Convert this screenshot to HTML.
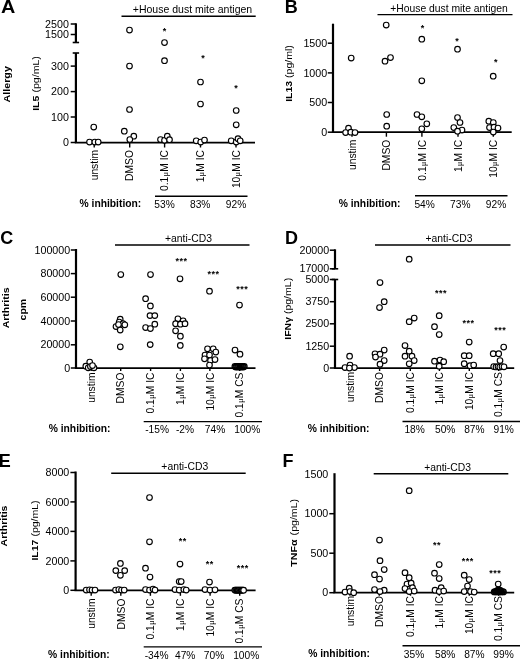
<!DOCTYPE html>
<html><head><meta charset="utf-8"><title>Figure</title>
<style>
html,body{margin:0;padding:0;background:#fff;}
svg{display:block;}
text{font-family:"Liberation Sans", sans-serif;fill:#000;}
</style></head><body>
<svg width="520" height="659" viewBox="0 0 520 659">
<rect width="520" height="659" fill="#fff"/>
<text transform="translate(0.9 13.2) scale(1.1 1)" font-size="18" font-weight="bold">A</text>
<line x1="75.9" y1="23.3" x2="75.9" y2="42.5" stroke="#000" stroke-width="2.2"/>
<line x1="72.7" y1="42.5" x2="79.1" y2="42.5" stroke="#000" stroke-width="1.6"/>
<line x1="75.9" y1="53" x2="75.9" y2="142.5" stroke="#000" stroke-width="2.2"/>
<line x1="72.7" y1="53" x2="79.1" y2="53" stroke="#000" stroke-width="1.6"/>
<line x1="70.7" y1="24" x2="75.9" y2="24" stroke="#000" stroke-width="1.5"/>
<text transform="translate(68.9 27.65) scale(1.05 1)" font-size="10.2" text-anchor="end">2500</text>
<line x1="70.7" y1="34.5" x2="75.9" y2="34.5" stroke="#000" stroke-width="1.5"/>
<text transform="translate(68.9 38.15) scale(1.05 1)" font-size="10.2" text-anchor="end">1500</text>
<line x1="70.7" y1="66.1" x2="75.9" y2="66.1" stroke="#000" stroke-width="1.5"/>
<text transform="translate(68.9 69.75) scale(1.05 1)" font-size="10.2" text-anchor="end">300</text>
<line x1="70.7" y1="91.6" x2="75.9" y2="91.6" stroke="#000" stroke-width="1.5"/>
<text transform="translate(68.9 95.25) scale(1.05 1)" font-size="10.2" text-anchor="end">200</text>
<line x1="70.7" y1="117" x2="75.9" y2="117" stroke="#000" stroke-width="1.5"/>
<text transform="translate(68.9 120.65) scale(1.05 1)" font-size="10.2" text-anchor="end">100</text>
<line x1="70.7" y1="142.5" x2="75.9" y2="142.5" stroke="#000" stroke-width="1.5"/>
<text transform="translate(68.9 146.15) scale(1.05 1)" font-size="10.2" text-anchor="end">0</text>
<line x1="74.8" y1="142.5" x2="255" y2="142.5" stroke="#000" stroke-width="1.75"/>
<line x1="94.2" y1="142.5" x2="94.2" y2="147.5" stroke="#000" stroke-width="1.4"/>
<text x="97.9" y="150" font-size="10.3" text-anchor="end" transform="rotate(-90 97.9 150)">unstim</text>
<line x1="129.7" y1="142.5" x2="129.7" y2="147.5" stroke="#000" stroke-width="1.4"/>
<text x="133.4" y="150" font-size="10.3" text-anchor="end" transform="rotate(-90 133.4 150)">DMSO</text>
<line x1="164.6" y1="142.5" x2="164.6" y2="147.5" stroke="#000" stroke-width="1.4"/>
<text x="168.3" y="150" font-size="10.3" text-anchor="end" transform="rotate(-90 168.3 150)">0.1<tspan font-family="'Liberation Serif', serif" font-size="7.8" dx="0.35">μ</tspan><tspan dx="0.35">M</tspan> IC</text>
<line x1="200.5" y1="142.5" x2="200.5" y2="147.5" stroke="#000" stroke-width="1.4"/>
<text x="204.2" y="150" font-size="10.3" text-anchor="end" transform="rotate(-90 204.2 150)">1<tspan font-family="'Liberation Serif', serif" font-size="7.8" dx="0.35">μ</tspan><tspan dx="0.35">M</tspan> IC</text>
<line x1="236" y1="142.5" x2="236" y2="147.5" stroke="#000" stroke-width="1.4"/>
<text x="239.7" y="150" font-size="10.3" text-anchor="end" transform="rotate(-90 239.7 150)">10<tspan font-family="'Liberation Serif', serif" font-size="7.8" dx="0.35">μ</tspan><tspan dx="0.35">M</tspan> IC</text>
<line x1="121.5" y1="16.3" x2="255.7" y2="16.3" stroke="#000" stroke-width="1.4"/>
<text x="192.5" y="12.6" font-size="10.5" text-anchor="middle">+House dust mite antigen</text>
<text x="79.5" y="207" font-size="10.3" font-weight="bold">% inhibition:</text>
<line x1="155" y1="196.3" x2="247.5" y2="196.3" stroke="#000" stroke-width="1.4"/>
<text x="164.5" y="208.1" font-size="10.2" text-anchor="middle">53%</text>
<text x="200.2" y="208.1" font-size="10.2" text-anchor="middle">83%</text>
<text x="236" y="208.1" font-size="10.2" text-anchor="middle">92%</text>
<text transform="translate(10.1 84.3) rotate(-90) scale(1.03 0.87)" font-size="10.4" text-anchor="middle"><tspan font-weight="bold">Allergy</tspan></text>
<text transform="translate(38.6 83.5) rotate(-90) scale(1.03 0.87)" font-size="10.3" text-anchor="middle"><tspan font-weight="bold">IL5</tspan> (pg/mL)</text>
<text x="164.5" y="33.9" font-size="9" text-anchor="middle" font-weight="bold">*</text>
<text x="203" y="61.4" font-size="9" text-anchor="middle" font-weight="bold">*</text>
<text x="236" y="90.9" font-size="9" text-anchor="middle" font-weight="bold">*</text>
<g fill="#fff" stroke="#000" stroke-width="1.15">
<circle cx="93.75" cy="127" r="2.8"/>
<circle cx="89.5" cy="142" r="2.8"/>
<circle cx="94.8" cy="142" r="2.8"/>
<circle cx="98.2" cy="142" r="2.8"/>
<circle cx="129.5" cy="30" r="2.8"/>
<circle cx="129.5" cy="66" r="2.8"/>
<circle cx="129.5" cy="109.5" r="2.8"/>
<circle cx="124.3" cy="131.2" r="2.8"/>
<circle cx="133.8" cy="136.2" r="2.8"/>
<circle cx="129.8" cy="139.5" r="2.8"/>
<circle cx="164.5" cy="42.5" r="2.8"/>
<circle cx="164.5" cy="60.7" r="2.8"/>
<circle cx="160.5" cy="139.5" r="2.8"/>
<circle cx="164.5" cy="140.3" r="2.8"/>
<circle cx="167.3" cy="136.2" r="2.8"/>
<circle cx="169.5" cy="139.7" r="2.8"/>
<circle cx="200.5" cy="82" r="2.8"/>
<circle cx="200.5" cy="104" r="2.8"/>
<circle cx="196.2" cy="140.8" r="2.8"/>
<circle cx="200.7" cy="142" r="2.8"/>
<circle cx="204.5" cy="140" r="2.8"/>
<circle cx="236.2" cy="110.5" r="2.8"/>
<circle cx="236.2" cy="124.8" r="2.8"/>
<circle cx="231.2" cy="140.8" r="2.8"/>
<circle cx="236.2" cy="142" r="2.8"/>
<circle cx="238" cy="138.7" r="2.8"/>
<circle cx="240.2" cy="140.8" r="2.8"/>
</g>
<text x="284.7" y="13.2" font-size="18" font-weight="bold">B</text>
<line x1="333" y1="23.7" x2="333" y2="132.2" stroke="#000" stroke-width="2.2"/>
<line x1="327.8" y1="43.2" x2="333" y2="43.2" stroke="#000" stroke-width="1.5"/>
<text transform="translate(327.2 46.85) scale(1.05 1)" font-size="10.2" text-anchor="end">1500</text>
<line x1="327.8" y1="72.9" x2="333" y2="72.9" stroke="#000" stroke-width="1.5"/>
<text transform="translate(327.2 76.55) scale(1.05 1)" font-size="10.2" text-anchor="end">1000</text>
<line x1="327.8" y1="102.5" x2="333" y2="102.5" stroke="#000" stroke-width="1.5"/>
<text transform="translate(327.2 106.15) scale(1.05 1)" font-size="10.2" text-anchor="end">500</text>
<line x1="327.8" y1="132.2" x2="333" y2="132.2" stroke="#000" stroke-width="1.5"/>
<text transform="translate(327.2 135.85) scale(1.05 1)" font-size="10.2" text-anchor="end">0</text>
<line x1="331.9" y1="132.2" x2="511.7" y2="132.2" stroke="#000" stroke-width="1.75"/>
<line x1="352" y1="132.2" x2="352" y2="136.7" stroke="#000" stroke-width="1.4"/>
<text x="355.7" y="139.7" font-size="10.3" text-anchor="end" transform="rotate(-90 355.7 139.7)">unstim</text>
<line x1="386.4" y1="132.2" x2="386.4" y2="136.7" stroke="#000" stroke-width="1.4"/>
<text x="390.1" y="139.7" font-size="10.3" text-anchor="end" transform="rotate(-90 390.1 139.7)">DMSO</text>
<line x1="421.9" y1="132.2" x2="421.9" y2="136.7" stroke="#000" stroke-width="1.4"/>
<text x="425.6" y="139.7" font-size="10.3" text-anchor="end" transform="rotate(-90 425.6 139.7)">0.1<tspan font-family="'Liberation Serif', serif" font-size="7.8" dx="0.35">μ</tspan><tspan dx="0.35">M</tspan> IC</text>
<line x1="458" y1="132.2" x2="458" y2="136.7" stroke="#000" stroke-width="1.4"/>
<text x="461.7" y="139.7" font-size="10.3" text-anchor="end" transform="rotate(-90 461.7 139.7)">1<tspan font-family="'Liberation Serif', serif" font-size="7.8" dx="0.35">μ</tspan><tspan dx="0.35">M</tspan> IC</text>
<line x1="493.3" y1="132.2" x2="493.3" y2="136.7" stroke="#000" stroke-width="1.4"/>
<text x="497" y="139.7" font-size="10.3" text-anchor="end" transform="rotate(-90 497 139.7)">10<tspan font-family="'Liberation Serif', serif" font-size="7.8" dx="0.35">μ</tspan><tspan dx="0.35">M</tspan> IC</text>
<line x1="377.5" y1="14.6" x2="512.5" y2="14.6" stroke="#000" stroke-width="1.4"/>
<text x="449" y="11.8" font-size="10.35" text-anchor="middle">+House dust mite antigen</text>
<text x="338.7" y="207" font-size="10.3" font-weight="bold">% inhibition:</text>
<line x1="415" y1="195.8" x2="507.5" y2="195.8" stroke="#000" stroke-width="1.4"/>
<text x="424.6" y="208.1" font-size="10.2" text-anchor="middle">54%</text>
<text x="460.3" y="208.1" font-size="10.2" text-anchor="middle">73%</text>
<text x="496" y="208.1" font-size="10.2" text-anchor="middle">92%</text>
<text transform="translate(291.8 73.5) rotate(-90) scale(1.03 0.87)" font-size="10.2" text-anchor="middle"><tspan font-weight="bold">IL13</tspan> (pg/ml)</text>
<text x="422.5" y="30.7" font-size="9" text-anchor="middle" font-weight="bold">*</text>
<text x="457" y="44.4" font-size="9" text-anchor="middle" font-weight="bold">*</text>
<text x="495.7" y="65.2" font-size="9" text-anchor="middle" font-weight="bold">*</text>
<g fill="#fff" stroke="#000" stroke-width="1.15">
<circle cx="351.2" cy="58" r="2.8"/>
<circle cx="348.5" cy="128.2" r="2.8"/>
<circle cx="345.6" cy="132.5" r="2.8"/>
<circle cx="350.8" cy="132.2" r="2.8"/>
<circle cx="355" cy="132.5" r="2.8"/>
<circle cx="386.2" cy="25" r="2.8"/>
<circle cx="385" cy="61.2" r="2.8"/>
<circle cx="390.5" cy="57.5" r="2.8"/>
<circle cx="386.7" cy="114.5" r="2.8"/>
<circle cx="386.7" cy="126.2" r="2.8"/>
<circle cx="421.8" cy="39.2" r="2.8"/>
<circle cx="421.8" cy="80.8" r="2.8"/>
<circle cx="417" cy="114.5" r="2.8"/>
<circle cx="421.8" cy="116.8" r="2.8"/>
<circle cx="426.8" cy="123.8" r="2.8"/>
<circle cx="421.8" cy="128.8" r="2.8"/>
<circle cx="457.5" cy="49.2" r="2.8"/>
<circle cx="457.5" cy="117.5" r="2.8"/>
<circle cx="460" cy="122.5" r="2.8"/>
<circle cx="453.8" cy="127.5" r="2.8"/>
<circle cx="462" cy="130" r="2.8"/>
<circle cx="457.5" cy="131.2" r="2.8"/>
<circle cx="493.2" cy="76.2" r="2.8"/>
<circle cx="488.8" cy="121.2" r="2.8"/>
<circle cx="493.3" cy="122.5" r="2.8"/>
<circle cx="489.5" cy="127.5" r="2.8"/>
<circle cx="494" cy="127.2" r="2.8"/>
<circle cx="498" cy="128" r="2.8"/>
<circle cx="493.3" cy="132" r="2.8"/>
</g>
<text x="0.2" y="244.2" font-size="18" font-weight="bold">C</text>
<line x1="76" y1="249" x2="76" y2="368" stroke="#000" stroke-width="2.2"/>
<line x1="70.8" y1="250" x2="76" y2="250" stroke="#000" stroke-width="1.5"/>
<text transform="translate(70.2 253.65) scale(1.05 1)" font-size="10.2" text-anchor="end">100000</text>
<line x1="70.8" y1="273.6" x2="76" y2="273.6" stroke="#000" stroke-width="1.5"/>
<text transform="translate(70.2 277.25) scale(1.05 1)" font-size="10.2" text-anchor="end">80000</text>
<line x1="70.8" y1="297.2" x2="76" y2="297.2" stroke="#000" stroke-width="1.5"/>
<text transform="translate(70.2 300.85) scale(1.05 1)" font-size="10.2" text-anchor="end">60000</text>
<line x1="70.8" y1="321" x2="76" y2="321" stroke="#000" stroke-width="1.5"/>
<text transform="translate(70.2 324.65) scale(1.05 1)" font-size="10.2" text-anchor="end">40000</text>
<line x1="70.8" y1="344.8" x2="76" y2="344.8" stroke="#000" stroke-width="1.5"/>
<text transform="translate(70.2 348.45) scale(1.05 1)" font-size="10.2" text-anchor="end">20000</text>
<line x1="70.8" y1="368" x2="76" y2="368" stroke="#000" stroke-width="1.5"/>
<text transform="translate(70.2 371.65) scale(1.05 1)" font-size="10.2" text-anchor="end">0</text>
<line x1="74.9" y1="368" x2="255.5" y2="368" stroke="#000" stroke-width="1.75"/>
<line x1="91.2" y1="368" x2="91.2" y2="371" stroke="#000" stroke-width="1.4"/>
<text x="94.9" y="372.5" font-size="10.3" text-anchor="end" transform="rotate(-90 94.9 372.5)">unstim</text>
<line x1="120.7" y1="368" x2="120.7" y2="371" stroke="#000" stroke-width="1.4"/>
<text x="124.4" y="372.5" font-size="10.3" text-anchor="end" transform="rotate(-90 124.4 372.5)">DMSO</text>
<line x1="150.6" y1="368" x2="150.6" y2="371" stroke="#000" stroke-width="1.4"/>
<text x="154.3" y="372.5" font-size="10.3" text-anchor="end" transform="rotate(-90 154.3 372.5)">0.1<tspan font-family="'Liberation Serif', serif" font-size="7.8" dx="0.35">μ</tspan><tspan dx="0.35">M</tspan> IC</text>
<line x1="180.4" y1="368" x2="180.4" y2="371" stroke="#000" stroke-width="1.4"/>
<text x="184.1" y="372.5" font-size="10.3" text-anchor="end" transform="rotate(-90 184.1 372.5)">1<tspan font-family="'Liberation Serif', serif" font-size="7.8" dx="0.35">μ</tspan><tspan dx="0.35">M</tspan> IC</text>
<line x1="209.9" y1="368" x2="209.9" y2="371" stroke="#000" stroke-width="1.4"/>
<text x="213.6" y="372.5" font-size="10.3" text-anchor="end" transform="rotate(-90 213.6 372.5)">10<tspan font-family="'Liberation Serif', serif" font-size="7.8" dx="0.35">μ</tspan><tspan dx="0.35">M</tspan> IC</text>
<line x1="239.7" y1="368" x2="239.7" y2="371" stroke="#000" stroke-width="1.4"/>
<text x="243.4" y="372.5" font-size="10.3" text-anchor="end" transform="rotate(-90 243.4 372.5)">0.1<tspan font-family="'Liberation Serif', serif" font-size="7.8" dx="0.35">μ</tspan><tspan dx="0.35">M</tspan> CS</text>
<line x1="115" y1="245" x2="249.5" y2="245" stroke="#000" stroke-width="1.4"/>
<text x="188.5" y="241.8" font-size="10.35" text-anchor="middle">+anti-CD3</text>
<text x="48.7" y="431.8" font-size="10.3" font-weight="bold">% inhibition:</text>
<line x1="143.7" y1="421.6" x2="262" y2="421.6" stroke="#000" stroke-width="1.4"/>
<text x="157.1" y="432.9" font-size="10.2" text-anchor="middle">-15%</text>
<text x="185" y="432.9" font-size="10.2" text-anchor="middle">-2%</text>
<text x="215" y="432.9" font-size="10.2" text-anchor="middle">74%</text>
<text x="247.3" y="432.9" font-size="10.2" text-anchor="middle">100%</text>
<text transform="translate(8.9 307.9) rotate(-90) scale(1.03 0.87)" font-size="10.2" text-anchor="middle"><tspan font-weight="bold">Arthritis</tspan></text>
<text transform="translate(26.2 309.6) rotate(-90) scale(1.03 0.87)" font-size="10.3" text-anchor="middle"><tspan font-weight="bold">cpm</tspan></text>
<text x="181.45" y="264.4" font-size="9" text-anchor="middle" font-weight="bold" letter-spacing="0.5">***</text>
<text x="213.45" y="276.9" font-size="9" text-anchor="middle" font-weight="bold" letter-spacing="0.5">***</text>
<text x="242.25" y="291.9" font-size="9" text-anchor="middle" font-weight="bold" letter-spacing="0.5">***</text>
<g fill="#fff" stroke="#000" stroke-width="1.15">
<circle cx="89.7" cy="362" r="2.8"/>
<circle cx="85.8" cy="366.2" r="2.8"/>
<circle cx="88.2" cy="367.8" r="2.8"/>
<circle cx="90.4" cy="366.5" r="2.8"/>
<circle cx="94" cy="367.8" r="2.8"/>
<circle cx="92.5" cy="365.5" r="2.8"/>
<circle cx="120.8" cy="274.5" r="2.8"/>
<circle cx="120.2" cy="319.2" r="2.8"/>
<circle cx="119.2" cy="322" r="2.8"/>
<circle cx="123" cy="323.6" r="2.8"/>
<circle cx="124.8" cy="324.8" r="2.8"/>
<circle cx="116" cy="326.5" r="2.8"/>
<circle cx="118.5" cy="324.5" r="2.8"/>
<circle cx="120.2" cy="330" r="2.8"/>
<circle cx="120.3" cy="346.8" r="2.8"/>
<circle cx="150.5" cy="274.5" r="2.8"/>
<circle cx="145.6" cy="298.7" r="2.8"/>
<circle cx="150.4" cy="305.9" r="2.8"/>
<circle cx="150" cy="315.6" r="2.8"/>
<circle cx="154.8" cy="315.6" r="2.8"/>
<circle cx="154.8" cy="324.2" r="2.8"/>
<circle cx="145.6" cy="327.5" r="2.8"/>
<circle cx="150.4" cy="328.5" r="2.8"/>
<circle cx="150.2" cy="344.6" r="2.8"/>
<circle cx="180" cy="278.8" r="2.8"/>
<circle cx="177.9" cy="318.8" r="2.8"/>
<circle cx="183.1" cy="320.8" r="2.8"/>
<circle cx="175.6" cy="323.7" r="2.8"/>
<circle cx="180.4" cy="324.2" r="2.8"/>
<circle cx="185" cy="323.7" r="2.8"/>
<circle cx="175.6" cy="330.8" r="2.8"/>
<circle cx="180.4" cy="336.2" r="2.8"/>
<circle cx="180.3" cy="345.4" r="2.8"/>
<circle cx="209.5" cy="291.2" r="2.8"/>
<circle cx="207.5" cy="348.8" r="2.8"/>
<circle cx="213.2" cy="348.8" r="2.8"/>
<circle cx="215.8" cy="352" r="2.8"/>
<circle cx="205" cy="355" r="2.8"/>
<circle cx="209.5" cy="355" r="2.8"/>
<circle cx="204.5" cy="358.8" r="2.8"/>
<circle cx="210.5" cy="360.5" r="2.8"/>
<circle cx="215" cy="359.5" r="2.8"/>
<circle cx="209.5" cy="365" r="2.8"/>
<circle cx="239.5" cy="305" r="2.8"/>
<circle cx="235" cy="350" r="2.8"/>
<circle cx="240" cy="354.2" r="2.8"/>
</g>
<g fill="none" stroke="#000" stroke-width="1.2">
<circle cx="234.9" cy="366.4" r="2.8"/>
<circle cx="235.84" cy="367" r="2.8"/>
<circle cx="236.78" cy="366.4" r="2.8"/>
<circle cx="237.72" cy="367" r="2.8"/>
<circle cx="238.66" cy="366.4" r="2.8"/>
<circle cx="239.6" cy="367" r="2.8"/>
<circle cx="240.54" cy="366.4" r="2.8"/>
<circle cx="241.48" cy="367" r="2.8"/>
<circle cx="242.42" cy="366.4" r="2.8"/>
<circle cx="243.36" cy="367" r="2.8"/>
<circle cx="244.3" cy="366.4" r="2.8"/>
</g>
<text x="285" y="244.2" font-size="18" font-weight="bold">D</text>
<line x1="335" y1="249.3" x2="335" y2="268.8" stroke="#000" stroke-width="2.2"/>
<line x1="331.8" y1="268.8" x2="338.2" y2="268.8" stroke="#000" stroke-width="1.6"/>
<line x1="335" y1="279.5" x2="335" y2="368" stroke="#000" stroke-width="2.2"/>
<line x1="331.8" y1="279.5" x2="338.2" y2="279.5" stroke="#000" stroke-width="1.6"/>
<line x1="329.8" y1="250.2" x2="335" y2="250.2" stroke="#000" stroke-width="1.5"/>
<text transform="translate(329.2 253.85) scale(1.05 1)" font-size="10.2" text-anchor="end">20000</text>
<line x1="329.8" y1="268.8" x2="335" y2="268.8" stroke="#000" stroke-width="1.5"/>
<text transform="translate(329.2 272.45) scale(1.05 1)" font-size="10.2" text-anchor="end">17000</text>
<line x1="329.8" y1="279.5" x2="335" y2="279.5" stroke="#000" stroke-width="1.5"/>
<text transform="translate(329.2 283.15) scale(1.05 1)" font-size="10.2" text-anchor="end">5000</text>
<line x1="329.8" y1="301.7" x2="335" y2="301.7" stroke="#000" stroke-width="1.5"/>
<text transform="translate(329.2 305.35) scale(1.05 1)" font-size="10.2" text-anchor="end">3750</text>
<line x1="329.8" y1="323.8" x2="335" y2="323.8" stroke="#000" stroke-width="1.5"/>
<text transform="translate(329.2 327.45) scale(1.05 1)" font-size="10.2" text-anchor="end">2500</text>
<line x1="329.8" y1="346.2" x2="335" y2="346.2" stroke="#000" stroke-width="1.5"/>
<text transform="translate(329.2 349.85) scale(1.05 1)" font-size="10.2" text-anchor="end">1250</text>
<line x1="329.8" y1="368" x2="335" y2="368" stroke="#000" stroke-width="1.5"/>
<text transform="translate(329.2 371.65) scale(1.05 1)" font-size="10.2" text-anchor="end">0</text>
<line x1="333.9" y1="368" x2="514.2" y2="368" stroke="#000" stroke-width="1.75"/>
<line x1="350.7" y1="368" x2="350.7" y2="371" stroke="#000" stroke-width="1.4"/>
<text x="354.4" y="372" font-size="10.3" text-anchor="end" transform="rotate(-90 354.4 372)">unstim</text>
<line x1="379.6" y1="368" x2="379.6" y2="371" stroke="#000" stroke-width="1.4"/>
<text x="383.3" y="372" font-size="10.3" text-anchor="end" transform="rotate(-90 383.3 372)">DMSO</text>
<line x1="410.3" y1="368" x2="410.3" y2="371" stroke="#000" stroke-width="1.4"/>
<text x="414" y="372" font-size="10.3" text-anchor="end" transform="rotate(-90 414 372)">0.1<tspan font-family="'Liberation Serif', serif" font-size="7.8" dx="0.35">μ</tspan><tspan dx="0.35">M</tspan> IC</text>
<line x1="439.4" y1="368" x2="439.4" y2="371" stroke="#000" stroke-width="1.4"/>
<text x="443.1" y="372" font-size="10.3" text-anchor="end" transform="rotate(-90 443.1 372)">1<tspan font-family="'Liberation Serif', serif" font-size="7.8" dx="0.35">μ</tspan><tspan dx="0.35">M</tspan> IC</text>
<line x1="469.3" y1="368" x2="469.3" y2="371" stroke="#000" stroke-width="1.4"/>
<text x="473" y="372" font-size="10.3" text-anchor="end" transform="rotate(-90 473 372)">10<tspan font-family="'Liberation Serif', serif" font-size="7.8" dx="0.35">μ</tspan><tspan dx="0.35">M</tspan> IC</text>
<line x1="498.6" y1="368" x2="498.6" y2="371" stroke="#000" stroke-width="1.4"/>
<text x="502.3" y="372" font-size="10.3" text-anchor="end" transform="rotate(-90 502.3 372)">0.1<tspan font-family="'Liberation Serif', serif" font-size="7.8" dx="0.35">μ</tspan><tspan dx="0.35">M</tspan> CS</text>
<line x1="375" y1="245" x2="510.5" y2="245" stroke="#000" stroke-width="1.4"/>
<text x="449" y="241.8" font-size="10.35" text-anchor="middle">+anti-CD3</text>
<text x="307.7" y="431.8" font-size="10.3" font-weight="bold">% inhibition:</text>
<line x1="402.5" y1="421.5" x2="520" y2="421.5" stroke="#000" stroke-width="1.4"/>
<text x="414.6" y="432.9" font-size="10.2" text-anchor="middle">18%</text>
<text x="445.2" y="432.9" font-size="10.2" text-anchor="middle">50%</text>
<text x="474.4" y="432.9" font-size="10.2" text-anchor="middle">87%</text>
<text x="503.7" y="432.9" font-size="10.2" text-anchor="middle">91%</text>
<text transform="translate(290.8 308.8) rotate(-90) scale(1.03 0.87)" font-size="10.2" text-anchor="middle"><tspan font-weight="bold">IFNγ</tspan> (pg/mL)</text>
<text x="440.95" y="296.1" font-size="9" text-anchor="middle" font-weight="bold" letter-spacing="0.5">***</text>
<text x="468.45" y="326.1" font-size="9" text-anchor="middle" font-weight="bold" letter-spacing="0.5">***</text>
<text x="500.25" y="333.1" font-size="9" text-anchor="middle" font-weight="bold" letter-spacing="0.5">***</text>
<g fill="#fff" stroke="#000" stroke-width="1.15">
<circle cx="349.6" cy="356.2" r="2.8"/>
<circle cx="345" cy="367.5" r="2.8"/>
<circle cx="350" cy="365" r="2.8"/>
<circle cx="354.4" cy="367.5" r="2.8"/>
<circle cx="349.4" cy="368" r="2.8"/>
<circle cx="380" cy="282.5" r="2.8"/>
<circle cx="384.2" cy="301.7" r="2.8"/>
<circle cx="379.5" cy="307.5" r="2.8"/>
<circle cx="384.2" cy="350" r="2.8"/>
<circle cx="375" cy="353.8" r="2.8"/>
<circle cx="380" cy="354.2" r="2.8"/>
<circle cx="375.5" cy="357" r="2.8"/>
<circle cx="384.2" cy="360.5" r="2.8"/>
<circle cx="380" cy="364.2" r="2.8"/>
<circle cx="409.2" cy="259.2" r="2.8"/>
<circle cx="414.2" cy="318" r="2.8"/>
<circle cx="409.2" cy="321.7" r="2.8"/>
<circle cx="405" cy="345.5" r="2.8"/>
<circle cx="409.2" cy="351.2" r="2.8"/>
<circle cx="405" cy="356.2" r="2.8"/>
<circle cx="412" cy="356.2" r="2.8"/>
<circle cx="414.2" cy="360.5" r="2.8"/>
<circle cx="409.2" cy="363.8" r="2.8"/>
<circle cx="439.2" cy="315.7" r="2.8"/>
<circle cx="434.5" cy="326.7" r="2.8"/>
<circle cx="439.2" cy="334.5" r="2.8"/>
<circle cx="434.5" cy="361.2" r="2.8"/>
<circle cx="440" cy="360" r="2.8"/>
<circle cx="443.7" cy="361.7" r="2.8"/>
<circle cx="439.2" cy="366.2" r="2.8"/>
<circle cx="469.2" cy="342" r="2.8"/>
<circle cx="464.2" cy="355.7" r="2.8"/>
<circle cx="469.2" cy="355.7" r="2.8"/>
<circle cx="464.2" cy="363.7" r="2.8"/>
<circle cx="470" cy="365.7" r="2.8"/>
<circle cx="473.7" cy="365" r="2.8"/>
<circle cx="503.7" cy="347" r="2.8"/>
<circle cx="493.2" cy="353.7" r="2.8"/>
<circle cx="498.7" cy="353.7" r="2.8"/>
<circle cx="500" cy="360.5" r="2.8"/>
<circle cx="493.7" cy="366.5" r="2.8"/>
<circle cx="496" cy="366.9" r="2.8"/>
<circle cx="498" cy="366.6" r="2.8"/>
<circle cx="499.8" cy="367" r="2.8"/>
<circle cx="502" cy="366.5" r="2.8"/>
<circle cx="504" cy="366.8" r="2.8"/>
</g>
<text x="-1.2" y="467.3" font-size="18" font-weight="bold">E</text>
<line x1="75.6" y1="471.5" x2="75.6" y2="590.3" stroke="#000" stroke-width="2.2"/>
<line x1="70.4" y1="472.5" x2="75.6" y2="472.5" stroke="#000" stroke-width="1.5"/>
<text transform="translate(69.3 476.15) scale(1.05 1)" font-size="10.2" text-anchor="end">8000</text>
<line x1="70.4" y1="501.9" x2="75.6" y2="501.9" stroke="#000" stroke-width="1.5"/>
<text transform="translate(69.3 505.55) scale(1.05 1)" font-size="10.2" text-anchor="end">6000</text>
<line x1="70.4" y1="531.4" x2="75.6" y2="531.4" stroke="#000" stroke-width="1.5"/>
<text transform="translate(69.3 535.05) scale(1.05 1)" font-size="10.2" text-anchor="end">4000</text>
<line x1="70.4" y1="560.9" x2="75.6" y2="560.9" stroke="#000" stroke-width="1.5"/>
<text transform="translate(69.3 564.55) scale(1.05 1)" font-size="10.2" text-anchor="end">2000</text>
<line x1="70.4" y1="590.3" x2="75.6" y2="590.3" stroke="#000" stroke-width="1.5"/>
<text transform="translate(69.3 593.95) scale(1.05 1)" font-size="10.2" text-anchor="end">0</text>
<line x1="74.5" y1="590.3" x2="255.6" y2="590.3" stroke="#000" stroke-width="1.75"/>
<line x1="91.2" y1="590.3" x2="91.2" y2="595.8" stroke="#000" stroke-width="1.4"/>
<text x="94.9" y="598.5" font-size="10.3" text-anchor="end" transform="rotate(-90 94.9 598.5)">unstim</text>
<line x1="120.8" y1="590.3" x2="120.8" y2="595.8" stroke="#000" stroke-width="1.4"/>
<text x="124.5" y="598.5" font-size="10.3" text-anchor="end" transform="rotate(-90 124.5 598.5)">DMSO</text>
<line x1="150.4" y1="590.3" x2="150.4" y2="595.8" stroke="#000" stroke-width="1.4"/>
<text x="154.1" y="598.5" font-size="10.3" text-anchor="end" transform="rotate(-90 154.1 598.5)">0.1<tspan font-family="'Liberation Serif', serif" font-size="7.8" dx="0.35">μ</tspan><tspan dx="0.35">M</tspan> IC</text>
<line x1="180.4" y1="590.3" x2="180.4" y2="595.8" stroke="#000" stroke-width="1.4"/>
<text x="184.1" y="598.5" font-size="10.3" text-anchor="end" transform="rotate(-90 184.1 598.5)">1<tspan font-family="'Liberation Serif', serif" font-size="7.8" dx="0.35">μ</tspan><tspan dx="0.35">M</tspan> IC</text>
<line x1="210.1" y1="590.3" x2="210.1" y2="595.8" stroke="#000" stroke-width="1.4"/>
<text x="213.8" y="598.5" font-size="10.3" text-anchor="end" transform="rotate(-90 213.8 598.5)">10<tspan font-family="'Liberation Serif', serif" font-size="7.8" dx="0.35">μ</tspan><tspan dx="0.35">M</tspan> IC</text>
<line x1="239.7" y1="590.3" x2="239.7" y2="595.8" stroke="#000" stroke-width="1.4"/>
<text x="243.4" y="598.5" font-size="10.3" text-anchor="end" transform="rotate(-90 243.4 598.5)">0.1<tspan font-family="'Liberation Serif', serif" font-size="7.8" dx="0.35">μ</tspan><tspan dx="0.35">M</tspan> CS</text>
<line x1="111.2" y1="473.3" x2="245.7" y2="473.3" stroke="#000" stroke-width="1.4"/>
<text x="184.8" y="470.2" font-size="10.35" text-anchor="middle">+anti-CD3</text>
<text x="48" y="657.5" font-size="10.3" font-weight="bold">% inhibition:</text>
<line x1="143.7" y1="646.9" x2="262" y2="646.9" stroke="#000" stroke-width="1.4"/>
<text x="156.6" y="658.6" font-size="10.2" text-anchor="middle">-34%</text>
<text x="185.2" y="658.6" font-size="10.2" text-anchor="middle">47%</text>
<text x="214" y="658.6" font-size="10.2" text-anchor="middle">70%</text>
<text x="246.2" y="658.6" font-size="10.2" text-anchor="middle">100%</text>
<text transform="translate(7.4 526) rotate(-90) scale(1.03 0.87)" font-size="10.2" text-anchor="middle"><tspan font-weight="bold">Arthritis</tspan></text>
<text transform="translate(38.2 530.5) rotate(-90) scale(1.03 0.87)" font-size="10.2" text-anchor="middle"><tspan font-weight="bold">IL17</tspan> (pg/mL)</text>
<text x="182.75" y="543.9" font-size="9" text-anchor="middle" font-weight="bold" letter-spacing="0.5">**</text>
<text x="209.75" y="567.1" font-size="9" text-anchor="middle" font-weight="bold" letter-spacing="0.5">**</text>
<text x="242.75" y="570.9" font-size="9" text-anchor="middle" font-weight="bold" letter-spacing="0.5">***</text>
<g fill="#fff" stroke="#000" stroke-width="1.15">
<circle cx="86.2" cy="590" r="2.8"/>
<circle cx="89.5" cy="589.8" r="2.8"/>
<circle cx="92" cy="590" r="2.8"/>
<circle cx="95" cy="590" r="2.8"/>
<circle cx="120.4" cy="563.4" r="2.8"/>
<circle cx="115.8" cy="570.6" r="2.8"/>
<circle cx="124.7" cy="570.6" r="2.8"/>
<circle cx="120.4" cy="575.3" r="2.8"/>
<circle cx="115.5" cy="590" r="2.8"/>
<circle cx="118.8" cy="589.5" r="2.8"/>
<circle cx="121.5" cy="590" r="2.8"/>
<circle cx="124.2" cy="590" r="2.8"/>
<circle cx="149.5" cy="497.5" r="2.8"/>
<circle cx="149.5" cy="541.8" r="2.8"/>
<circle cx="145.5" cy="568.2" r="2.8"/>
<circle cx="150" cy="577" r="2.8"/>
<circle cx="145.5" cy="589.5" r="2.8"/>
<circle cx="149.5" cy="590" r="2.8"/>
<circle cx="153" cy="589" r="2.8"/>
<circle cx="155" cy="590" r="2.8"/>
<circle cx="180" cy="564" r="2.8"/>
<circle cx="179.2" cy="581.5" r="2.8"/>
<circle cx="181.2" cy="581.5" r="2.8"/>
<circle cx="175" cy="589.5" r="2.8"/>
<circle cx="179.2" cy="590" r="2.8"/>
<circle cx="183.8" cy="589.5" r="2.8"/>
<circle cx="186.2" cy="590" r="2.8"/>
<circle cx="209.5" cy="582" r="2.8"/>
<circle cx="205" cy="589.5" r="2.8"/>
<circle cx="210" cy="590" r="2.8"/>
<circle cx="215" cy="589.8" r="2.8"/>
<circle cx="234.8" cy="590" r="2.8"/>
<circle cx="235.6" cy="590.2" r="2.8"/>
<circle cx="236.4" cy="590" r="2.8"/>
<circle cx="237.2" cy="590.2" r="2.8"/>
<circle cx="238" cy="590" r="2.8"/>
<circle cx="238.8" cy="590.2" r="2.8"/>
<circle cx="239.6" cy="590" r="2.8"/>
<circle cx="240.4" cy="590.2" r="2.8"/>
<circle cx="241.2" cy="590" r="2.8"/>
<circle cx="242" cy="590.2" r="2.8"/>
<circle cx="242.8" cy="590" r="2.8"/>
<circle cx="243.6" cy="590.2" r="2.8"/>
</g>
<text x="282.5" y="467.4" font-size="18" font-weight="bold">F</text>
<line x1="334.5" y1="473.2" x2="334.5" y2="592.7" stroke="#000" stroke-width="2.2"/>
<text transform="translate(328.3 477.85) scale(1.05 1)" font-size="10.2" text-anchor="end">1500</text>
<line x1="329.3" y1="513.7" x2="334.5" y2="513.7" stroke="#000" stroke-width="1.5"/>
<text transform="translate(328.3 517.35) scale(1.05 1)" font-size="10.2" text-anchor="end">1000</text>
<line x1="329.3" y1="553.2" x2="334.5" y2="553.2" stroke="#000" stroke-width="1.5"/>
<text transform="translate(328.3 556.85) scale(1.05 1)" font-size="10.2" text-anchor="end">500</text>
<line x1="329.3" y1="592.7" x2="334.5" y2="592.7" stroke="#000" stroke-width="1.5"/>
<text transform="translate(328.3 596.35) scale(1.05 1)" font-size="10.2" text-anchor="end">0</text>
<line x1="333.4" y1="592.7" x2="514.2" y2="592.7" stroke="#000" stroke-width="1.75"/>
<line x1="349.9" y1="592.7" x2="349.9" y2="595.7" stroke="#000" stroke-width="1.4"/>
<text x="353.6" y="596" font-size="10.3" text-anchor="end" transform="rotate(-90 353.6 596)">unstim</text>
<line x1="379.3" y1="592.7" x2="379.3" y2="595.7" stroke="#000" stroke-width="1.4"/>
<text x="383" y="596" font-size="10.3" text-anchor="end" transform="rotate(-90 383 596)">DMSO</text>
<line x1="410.5" y1="592.7" x2="410.5" y2="595.7" stroke="#000" stroke-width="1.4"/>
<text x="414.2" y="596" font-size="10.3" text-anchor="end" transform="rotate(-90 414.2 596)">0.1<tspan font-family="'Liberation Serif', serif" font-size="7.8" dx="0.35">μ</tspan><tspan dx="0.35">M</tspan> IC</text>
<line x1="439.3" y1="592.7" x2="439.3" y2="595.7" stroke="#000" stroke-width="1.4"/>
<text x="443" y="596" font-size="10.3" text-anchor="end" transform="rotate(-90 443 596)">1<tspan font-family="'Liberation Serif', serif" font-size="7.8" dx="0.35">μ</tspan><tspan dx="0.35">M</tspan> IC</text>
<line x1="469.3" y1="592.7" x2="469.3" y2="595.7" stroke="#000" stroke-width="1.4"/>
<text x="473" y="596" font-size="10.3" text-anchor="end" transform="rotate(-90 473 596)">10<tspan font-family="'Liberation Serif', serif" font-size="7.8" dx="0.35">μ</tspan><tspan dx="0.35">M</tspan> IC</text>
<line x1="498.7" y1="592.7" x2="498.7" y2="595.7" stroke="#000" stroke-width="1.4"/>
<text x="502.4" y="596" font-size="10.3" text-anchor="end" transform="rotate(-90 502.4 596)">0.1<tspan font-family="'Liberation Serif', serif" font-size="7.8" dx="0.35">μ</tspan><tspan dx="0.35">M</tspan> CS</text>
<line x1="373.7" y1="473.8" x2="508.3" y2="473.8" stroke="#000" stroke-width="1.4"/>
<text x="447.6" y="470.5" font-size="10.35" text-anchor="middle">+anti-CD3</text>
<text x="308.2" y="657.3" font-size="10.3" font-weight="bold">% inhibition:</text>
<line x1="402.5" y1="645.8" x2="520" y2="645.8" stroke="#000" stroke-width="1.4"/>
<text x="414" y="658.4" font-size="10.2" text-anchor="middle">35%</text>
<text x="445.2" y="658.4" font-size="10.2" text-anchor="middle">58%</text>
<text x="474.4" y="658.4" font-size="10.2" text-anchor="middle">87%</text>
<text x="503.5" y="658.4" font-size="10.2" text-anchor="middle">99%</text>
<text transform="translate(296.6 532.8) rotate(-90) scale(1.03 0.87)" font-size="10.3" text-anchor="middle"><tspan font-weight="bold">TNFα</tspan><tspan dx="1.2"> (pg/mL)</tspan></text>
<text x="436.95" y="547.6" font-size="9" text-anchor="middle" font-weight="bold" letter-spacing="0.5">**</text>
<text x="467.75" y="563.9" font-size="9" text-anchor="middle" font-weight="bold" letter-spacing="0.5">***</text>
<text x="495.25" y="575.9" font-size="9" text-anchor="middle" font-weight="bold" letter-spacing="0.5">***</text>
<g fill="#fff" stroke="#000" stroke-width="1.15">
<circle cx="349.2" cy="588.2" r="2.8"/>
<circle cx="345" cy="592" r="2.8"/>
<circle cx="350" cy="591.5" r="2.8"/>
<circle cx="353.7" cy="592.7" r="2.8"/>
<circle cx="379.5" cy="540" r="2.8"/>
<circle cx="380" cy="560.7" r="2.8"/>
<circle cx="384.2" cy="569.5" r="2.8"/>
<circle cx="374.5" cy="574.7" r="2.8"/>
<circle cx="379.5" cy="579" r="2.8"/>
<circle cx="374.5" cy="589.5" r="2.8"/>
<circle cx="384.2" cy="590.2" r="2.8"/>
<circle cx="380" cy="591.5" r="2.8"/>
<circle cx="409.2" cy="490.7" r="2.8"/>
<circle cx="405" cy="572.7" r="2.8"/>
<circle cx="409.2" cy="577.7" r="2.8"/>
<circle cx="407" cy="584" r="2.8"/>
<circle cx="411.2" cy="583.2" r="2.8"/>
<circle cx="405" cy="588.5" r="2.8"/>
<circle cx="412.5" cy="587.7" r="2.8"/>
<circle cx="409.2" cy="591.5" r="2.8"/>
<circle cx="414.2" cy="591" r="2.8"/>
<circle cx="439.2" cy="564.5" r="2.8"/>
<circle cx="434.5" cy="573.2" r="2.8"/>
<circle cx="439.2" cy="578.5" r="2.8"/>
<circle cx="441.2" cy="587.7" r="2.8"/>
<circle cx="435" cy="590.2" r="2.8"/>
<circle cx="439.2" cy="591.5" r="2.8"/>
<circle cx="443.7" cy="591" r="2.8"/>
<circle cx="464.2" cy="575.2" r="2.8"/>
<circle cx="469.2" cy="579.5" r="2.8"/>
<circle cx="467.5" cy="586" r="2.8"/>
<circle cx="464.2" cy="591.5" r="2.8"/>
<circle cx="470.5" cy="591.5" r="2.8"/>
<circle cx="474.2" cy="592" r="2.8"/>
<circle cx="498.2" cy="584" r="2.8"/>
</g>
<g fill="none" stroke="#000" stroke-width="1.2">
<circle cx="494.2" cy="591.9" r="2.8"/>
<circle cx="495.13" cy="591.6" r="2.8"/>
<circle cx="496.06" cy="591.9" r="2.8"/>
<circle cx="496.99" cy="591.6" r="2.8"/>
<circle cx="497.92" cy="591.9" r="2.8"/>
<circle cx="498.85" cy="591.6" r="2.8"/>
<circle cx="499.78" cy="591.9" r="2.8"/>
<circle cx="500.71" cy="591.6" r="2.8"/>
<circle cx="501.64" cy="591.9" r="2.8"/>
<circle cx="502.57" cy="591.6" r="2.8"/>
<circle cx="503.5" cy="591.9" r="2.8"/>
<circle cx="497.5" cy="590.3" r="2.8"/>
<circle cx="499" cy="590" r="2.8"/>
<circle cx="500.3" cy="590.4" r="2.8"/>
</g>
</svg>
</body></html>
